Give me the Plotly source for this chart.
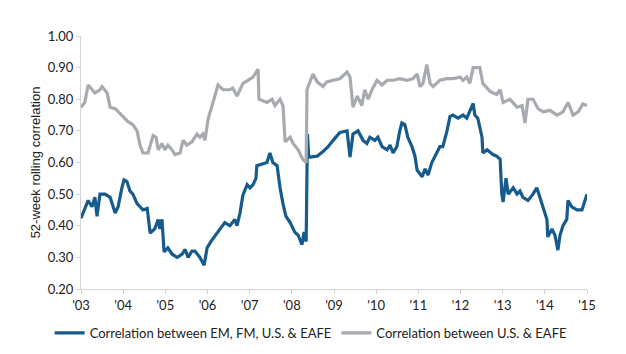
import plotly.graph_objects as go

# Correlation between EM, FM, U.S. & EAFE (decimal year, value)
em_years = [2003.00, 2003.09, 2003.17, 2003.26, 2003.33, 2003.38, 2003.45, 2003.57, 2003.69, 2003.81,
            2003.88, 2003.97, 2004.02, 2004.09, 2004.16, 2004.23, 2004.33, 2004.40, 2004.47, 2004.57,
            2004.64, 2004.75, 2004.83, 2004.87, 2004.92, 2004.97, 2005.06, 2005.16, 2005.28, 2005.40,
            2005.47, 2005.54, 2005.63, 2005.70, 2005.82, 2005.92, 2005.99, 2006.08, 2006.18, 2006.30,
            2006.41, 2006.53, 2006.65, 2006.70, 2006.77, 2006.84, 2006.94, 2007.01, 2007.08, 2007.15,
            2007.17, 2007.29, 2007.41, 2007.48, 2007.55, 2007.65, 2007.72, 2007.79, 2007.86, 2007.96,
            2008.07, 2008.15, 2008.24, 2008.29, 2008.34, 2008.37, 2008.40, 2008.43, 2008.60, 2008.74,
            2008.86, 2008.98, 2009.14, 2009.31, 2009.38, 2009.45, 2009.57, 2009.69, 2009.78, 2009.85,
            2009.97, 2010.04, 2010.14, 2010.26, 2010.33, 2010.40, 2010.49, 2010.56, 2010.61, 2010.68,
            2010.75, 2010.85, 2010.92, 2010.97, 2011.09, 2011.16, 2011.23, 2011.32, 2011.44, 2011.51,
            2011.58, 2011.68, 2011.75, 2011.82, 2011.94, 2012.06, 2012.15, 2012.22, 2012.30, 2012.34,
            2012.41, 2012.51, 2012.53, 2012.63, 2012.77, 2012.86, 2012.94, 2012.98, 2013.01, 2013.08,
            2013.13, 2013.25, 2013.34, 2013.41, 2013.48, 2013.60, 2013.72, 2013.81, 2013.88, 2013.96,
            2014.05, 2014.07, 2014.17, 2014.24, 2014.31, 2014.36, 2014.43, 2014.52, 2014.55, 2014.64,
            2014.76, 2014.88, 2014.95, 2015.00]
em_values = [0.424, 0.456, 0.48, 0.46, 0.49, 0.43, 0.50, 0.50, 0.49, 0.44,
             0.46, 0.52, 0.545, 0.54, 0.51, 0.50, 0.47, 0.46, 0.45, 0.455,
             0.377, 0.39, 0.42, 0.39, 0.42, 0.317, 0.33, 0.31, 0.30, 0.31,
             0.325, 0.30, 0.32, 0.32, 0.30, 0.275, 0.33, 0.35, 0.37, 0.39,
             0.41, 0.40, 0.42, 0.40, 0.44, 0.497, 0.53, 0.52, 0.53, 0.55,
             0.59, 0.595, 0.60, 0.63, 0.60, 0.59, 0.52, 0.47, 0.43, 0.41,
             0.38, 0.37, 0.34, 0.38, 0.35, 0.69, 0.62, 0.617, 0.62, 0.635,
             0.65, 0.67, 0.695, 0.70, 0.617, 0.69, 0.70, 0.67, 0.66, 0.68,
             0.67, 0.68, 0.65, 0.64, 0.655, 0.63, 0.65, 0.70, 0.725, 0.72,
             0.68, 0.65, 0.62, 0.576, 0.555, 0.58, 0.56, 0.60, 0.63, 0.65,
             0.65, 0.70, 0.745, 0.75, 0.74, 0.75, 0.74, 0.76, 0.787, 0.75,
             0.74, 0.68, 0.63, 0.64, 0.625, 0.62, 0.61, 0.50, 0.475, 0.55,
             0.50, 0.52, 0.50, 0.51, 0.49, 0.48, 0.50, 0.52, 0.49, 0.46,
             0.42, 0.365, 0.39, 0.37, 0.323, 0.37, 0.40, 0.42, 0.48, 0.46,
             0.45, 0.45, 0.48, 0.50]

# Correlation between U.S. & EAFE (decimal year, value)
us_years = [2003.00, 2003.09, 2003.17, 2003.33, 2003.45, 2003.50, 2003.62, 2003.69, 2003.81, 2003.88,
            2004.00, 2004.11, 2004.23, 2004.33, 2004.40, 2004.47, 2004.59, 2004.71, 2004.78, 2004.83,
            2004.92, 2004.99, 2005.06, 2005.16, 2005.23, 2005.35, 2005.42, 2005.51, 2005.63, 2005.75,
            2005.82, 2005.89, 2005.94, 2006.01, 2006.13, 2006.25, 2006.37, 2006.53, 2006.60, 2006.70,
            2006.77, 2006.84, 2006.96, 2007.08, 2007.20, 2007.22, 2007.41, 2007.53, 2007.60, 2007.72,
            2007.79, 2007.84, 2007.96, 2008.03, 2008.15, 2008.26, 2008.34, 2008.36, 2008.50, 2008.60,
            2008.74, 2008.83, 2008.98, 2009.14, 2009.31, 2009.38, 2009.45, 2009.55, 2009.66, 2009.73,
            2009.81, 2009.90, 2010.02, 2010.14, 2010.26, 2010.40, 2010.56, 2010.73, 2010.87, 2010.97,
            2011.04, 2011.11, 2011.20, 2011.28, 2011.35, 2011.51, 2011.68, 2011.82, 2011.99, 2012.06,
            2012.15, 2012.22, 2012.30, 2012.46, 2012.53, 2012.70, 2012.86, 2012.94, 2013.01, 2013.17,
            2013.34, 2013.46, 2013.53, 2013.60, 2013.72, 2013.84, 2013.96, 2014.12, 2014.29, 2014.43,
            2014.55, 2014.67, 2014.79, 2014.90, 2015.00]
us_values = [0.775, 0.79, 0.845, 0.82, 0.83, 0.84, 0.82, 0.775, 0.77, 0.76,
             0.745, 0.73, 0.72, 0.70, 0.655, 0.63, 0.63, 0.685, 0.68, 0.64,
             0.66, 0.64, 0.655, 0.64, 0.625, 0.63, 0.67, 0.655, 0.665, 0.69,
             0.68, 0.69, 0.67, 0.735, 0.79, 0.845, 0.83, 0.83, 0.835, 0.81,
             0.83, 0.85, 0.86, 0.87, 0.895, 0.80, 0.79, 0.80, 0.78, 0.80,
             0.78, 0.665, 0.68, 0.66, 0.64, 0.61, 0.60, 0.83, 0.88, 0.855,
             0.84, 0.855, 0.86, 0.865, 0.886, 0.87, 0.775, 0.81, 0.78, 0.83,
             0.80, 0.83, 0.86, 0.845, 0.86, 0.86, 0.865, 0.86, 0.865, 0.88,
             0.84, 0.85, 0.91, 0.85, 0.84, 0.86, 0.865, 0.865, 0.87, 0.86,
             0.87, 0.85, 0.90, 0.90, 0.85, 0.825, 0.815, 0.83, 0.79, 0.80,
             0.775, 0.78, 0.725, 0.80, 0.80, 0.77, 0.76, 0.765, 0.75, 0.76,
             0.79, 0.75, 0.76, 0.785, 0.78]

x_tick_vals = [2003, 2004, 2005, 2006, 2007, 2008, 2009, 2010, 2011, 2012, 2013, 2014, 2015]
x_tick_text = ["'03", "'04", "'05", "'06", "'07", "'08", "'09", "'10", "'11", "'12", "'13", "'14", "'15"]
y_tick_vals = [0.2, 0.3, 0.4, 0.5, 0.6, 0.7, 0.8, 0.9, 1.0]

BLUE = "#175b8d"
GRAY = "#a7aab0"
FONT = "Lato, 'Open Sans', sans-serif"

fig = go.Figure()
fig.add_trace(go.Scatter(x=em_years, y=em_values, mode="lines",
                         name="Correlation between EM, FM, U.S. & EAFE",
                         line=dict(color=BLUE, width=3.2)))
fig.add_trace(go.Scatter(x=us_years, y=us_values, mode="lines",
                         name="Correlation between U.S. & EAFE",
                         line=dict(color=GRAY, width=3.2)))

fig.update_layout(
    width=626, height=354,
    margin=dict(l=81, r=39, t=36, b=65, autoexpand=False),
    paper_bgcolor="white", plot_bgcolor="white",
    font=dict(family=FONT, size=13, color="#222222"),
    showlegend=True,
    legend=dict(orientation="h", x=-0.062, xanchor="left",
                y=-0.174, yanchor="middle",
                font=dict(family=FONT, size=13, color="#222222"),
                itemwidth=30, tracegroupgap=0),
    xaxis=dict(range=[2003, 2015], tickvals=x_tick_vals, ticktext=x_tick_text,
               showgrid=False, zeroline=False, showline=True, linecolor="#d4d4d4", linewidth=1,
               ticks="outside", ticklen=4, tickcolor="#d4d4d4",
               tickfont=dict(family=FONT, size=13, color="#222222")),
    yaxis=dict(range=[0.2, 1.0], tickvals=y_tick_vals, tickformat=".2f",
               showgrid=False, zeroline=False, showline=True, linecolor="#d4d4d4", linewidth=1,
               ticks="outside", ticklen=4, tickcolor="#d4d4d4",
               tickfont=dict(family=FONT, size=13, color="#222222"),
               title=dict(text="52-week rolling correlation", standoff=4,
                          font=dict(family="'Liberation Sans Narrow', 'Liberation Sans', sans-serif",
                                    size=13, color="#222222"))),
)

fig.write_html("out.html")
